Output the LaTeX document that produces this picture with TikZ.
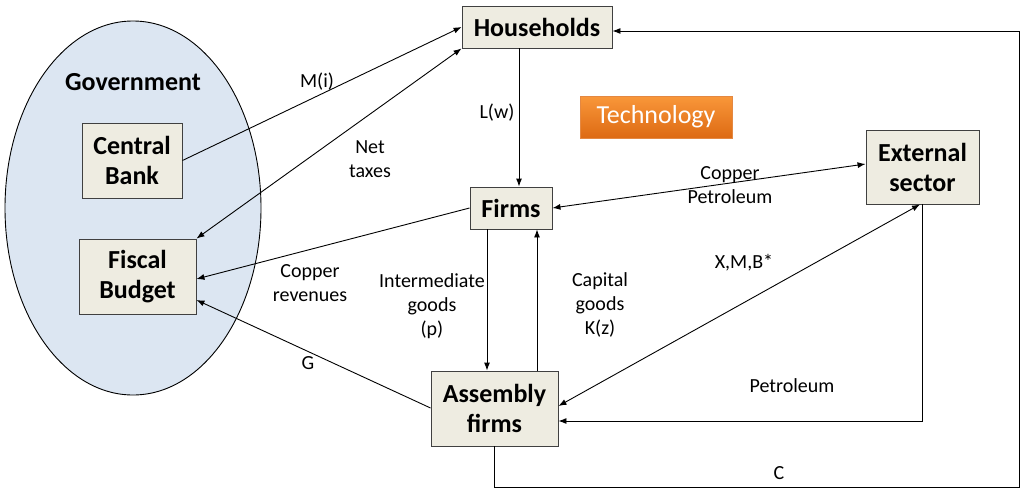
\documentclass[tikz,border=0pt]{standalone}
\usepackage{fontspec}
\setmainfont{Carlito}
\usetikzlibrary{arrows.meta,calc,shapes.geometric}
\definecolor{boxfill}{HTML}{EEECE1}
\definecolor{boxdraw}{HTML}{404040}
\definecolor{govfill}{HTML}{DCE6F2}
\definecolor{orgtop}{HTML}{F9973A}
\definecolor{orgbot}{HTML}{DD6A13}
\tikzset{
  sector/.style={draw=boxdraw, line width=0.9pt, fill=boxfill, inner sep=0pt, align=center,
    font=\fontsize{26}{30}\selectfont\bfseries},
  lbl/.style={inner sep=0pt, align=center, font=\fontsize{20}{24}\selectfont},
  flow/.style={line width=0.9pt, -{Latex[length=8pt,width=6pt]}},
  bflow/.style={line width=0.9pt, {Latex[length=8pt,width=6pt]}-{Latex[length=8pt,width=6pt]}},
}
\begin{document}
\begin{tikzpicture}[x=1pt,y=-1pt]
\useasboundingbox (0,0) rectangle (1024,495);
% government ellipse
\node[draw=black, line width=0.9pt, fill=govfill, ellipse, minimum width=256pt, minimum height=374pt, inner sep=0pt] (gov) at (133,208) {};
\node[inner sep=0pt, font=\fontsize{26}{30}\selectfont\bfseries] (govlbl) at (133,82) {Government};
% sectors
\node[sector, minimum width=100pt, minimum height=75pt] (cb) at (132,160.5) {Central\\Bank};
\node[sector, minimum width=117pt, minimum height=75pt] (fb) at (137.5,276.5) {Fiscal\\Budget};
\node[sector, minimum width=150pt, minimum height=42pt] (hh) at (537,27) {Households};
\node[sector, minimum width=82pt, minimum height=42pt] (fi) at (511,208) {Firms};
\node[sector, minimum width=113pt, minimum height=74pt] (ex) at (922.5,167) {External\\sector};
\node[sector, minimum width=127pt, minimum height=75pt] (as) at (494.5,408.5) {Assembly\\firms};
\node[draw=orgbot!80!white, line width=0.6pt, top color=orgtop, bottom color=orgbot, text=white,
  minimum width=152pt, minimum height=42pt, inner sep=0pt, font=\fontsize{26}{30}\selectfont] (tech) at (656,117) {Technology};
% corner coordinate for C loop
\coordinate (cR) at (1019,487);
% connectors
\draw[flow] (cb.east) -- (hh.west);
\draw[bflow] (hh.south west) -- (fb.north east);
\draw[flow] ([xshift=8pt]fi.north |- hh.south) -- ([xshift=8pt]fi.north);
\draw[bflow] (fi.east) -- ([yshift=3pt]ex.west);
\draw[flow] (fi.west) -- ([yshift=-2.5pt]fb.east);
\draw[flow] ([xshift=-24pt]fi.south) -- ([xshift=-24pt]fi.south |- as.north);
\draw[flow] ([xshift=26pt]fi.south |- as.north) -- ([xshift=26pt]fi.south);
\draw[flow] ([yshift=0.5pt]as.west) -- ([yshift=-23.5pt]fb.east);
\draw[bflow] ([yshift=2.5pt]as.east) -- ([xshift=-2.5pt]ex.south);
\draw[flow] (ex.south) |- ([yshift=-12.5pt]as.east);
\draw[flow] (as.south) |- (cR) |- ([yshift=-4pt]hh.east);
% labels
\node[lbl] (lM) at (317,82) {M(i)};
\node[lbl] (lNT) at (370,159) {Net\\taxes};
\node[lbl] (lL) at (497,113) {L(w)};
\node[lbl] (lCP) at (730,185) {Copper\\Petroleum};
\node[lbl] (lCR) at (310,283) {Copper\\revenues};
\node[lbl] (lIG) at (432,306) {Intermediate\\goods\\(p)};
\node[lbl] (lKG) at (600,305) {Capital\\goods\\K(z)};
\node[lbl] (lX) at (744,263) {X,M,B*};
\node[lbl] (lG) at (308,363) {G};
\node[lbl] (lP) at (792,386) {Petroleum};
\node[lbl] (lC) at (779,473) {C};
\end{tikzpicture}
\end{document}
